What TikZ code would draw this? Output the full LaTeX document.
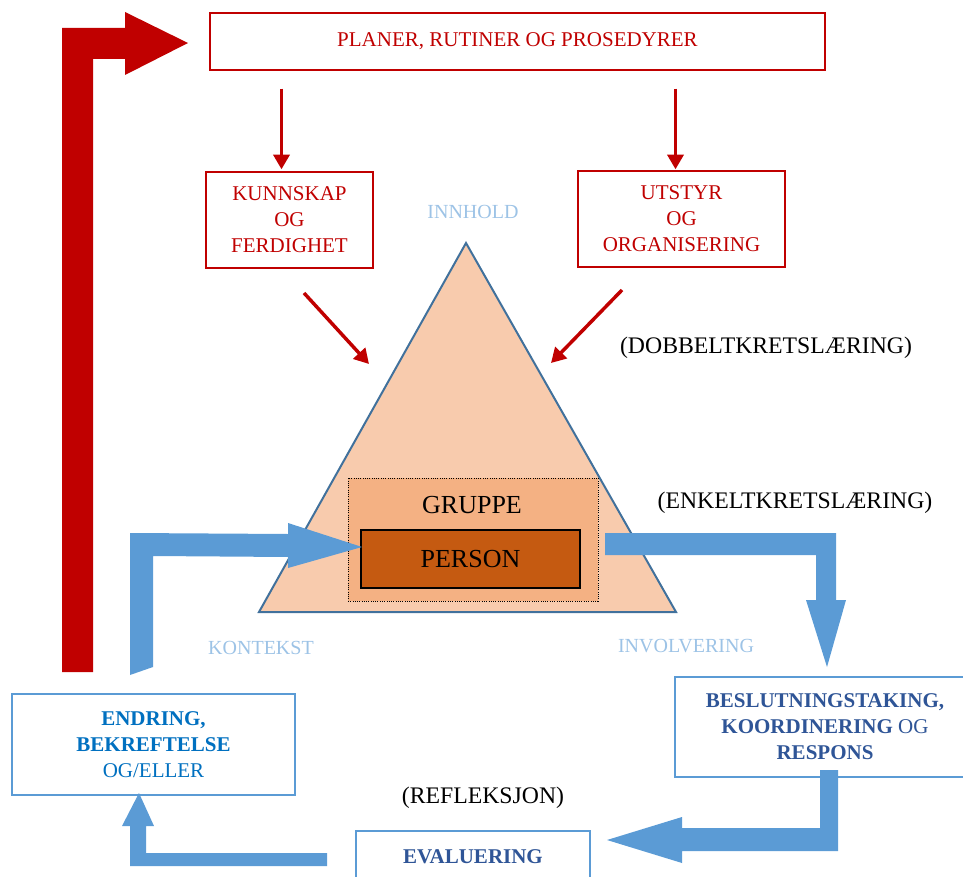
\documentclass[tikz,border=0pt]{standalone}
\usepackage{fontspec}
\setmainfont{Liberation Serif}
\usetikzlibrary{arrows.meta,calc}
\definecolor{dred}{HTML}{C00000}
\definecolor{abl}{HTML}{5B9BD5}
\definecolor{lblue}{HTML}{9DC3E6}
\definecolor{txtblue}{HTML}{0070C0}
\definecolor{dkblue}{HTML}{2F5597}
\definecolor{trifill}{HTML}{F8CBAD}
\definecolor{triline}{HTML}{41719C}
\definecolor{grfill}{HTML}{F4B183}
\definecolor{psfill}{HTML}{C55A11}
\begin{document}
\begin{tikzpicture}[x=0.75pt,y=-0.75pt,
  redbox/.style={draw=dred, line width=1pt, fill=white, text=dred, inner sep=0pt, align=center,
    font=\fontsize{15.75}{19.5}\selectfont},
  bluebox/.style={draw=abl, line width=1.6pt, fill=white, inner sep=0pt, align=center,
    font=\fontsize{15.75}{19.5}\selectfont},
  fatred/.style={fill=dred},
  fatblue/.style={fill=abl},
  redarr/.style={draw=dred, line width=2.6pt, -{Triangle[width=12pt,length=11pt]}},
  lightlab/.style={text=lblue, font=\fontsize{15}{18}\selectfont, inner sep=0pt},
  blacklab/.style={font=\fontsize{17.8}{21}\selectfont, inner sep=0pt}]
\useasboundingbox (0,0) rectangle (963,877);

% triangle and inner boxes
\coordinate (tapex) at (466,243);
\coordinate (tleft) at (259,612);
\coordinate (tright) at (676,612);
\draw[fill=trifill, draw=triline, line width=1.5pt, line join=miter] (tapex) -- (tleft) -- (tright) -- cycle;
\node[draw=black, densely dotted, line width=0.7pt, fill=grfill, minimum width=187.5pt, minimum height=92.25pt, inner sep=0pt] (grp) at (473,539.5) {};
\node[font=\fontsize{19.5}{22}\selectfont, inner sep=0pt] (grplab) at (472,505) {GRUPPE};
\node[draw=black, line width=1.1pt, fill=psfill, minimum width=164.25pt, minimum height=43.5pt, inner sep=0pt, font=\fontsize{19.5}{22}\selectfont] (pers) at (470.5,559) {PERSON};

% red boxes
\node[redbox, minimum width=461.25pt, minimum height=42.75pt] (top) at (517.5,41.5) {PLANER, RUTINER OG PROSEDYRER};
\node[redbox, minimum width=125.25pt, minimum height=72pt] (kunn) at (289.5,220) {KUNNSKAP\\OG\\FERDIGHET};
\node[redbox, minimum width=155.25pt, minimum height=72pt] (utst) at (681.5,219) {UTSTYR\\OG\\ORGANISERING};

% thin red arrows
\draw[redarr] ($(top.south -| kunn.north)+(-8,18)$) -- ($(kunn.north)+(-8,-2)$);
\draw[redarr] ($(top.south -| utst.north)+(-6,18)$) -- ($(utst.north)+(-6,-1)$);
\coordinate (k1) at (304,293);
\coordinate (k2) at (369,364);
\coordinate (u1) at (622,290);
\coordinate (u2) at (551,363);
\draw[redarr] (k1) -- (k2);
\draw[redarr] (u1) -- (u2);

% big red arrow
\fill[fatred] (62,672) -- (62,28) -- (125,28) -- (125,12) -- (188,43) -- (125,75) -- (125,59) -- (93,59) -- (93,672) -- cycle;

% labels
\node[lightlab] (innhold) at (473,212) {INNHOLD};
\node[lightlab] (kontekst) at (261,648) {KONTEKST};
\node[lightlab] (involv) at (686,646) {INVOLVERING};
\node[blacklab] (dobbel) at (766,348) {(DOBBELTKRETSLÆRING)};
\node[blacklab] (enkel) at (795,503) {(ENKELTKRETSLÆRING)};
\node[blacklab] (refl) at (483,798) {(REFLEKSJON)};

% blue boxes
\node[bluebox, text=txtblue, minimum width=212.25pt, minimum height=75.75pt] (endr) at (153.5,744.5)
  {\textbf{ENDRING,}\\\textbf{BEKREFTELSE}\\OG/ELLER};
\node[bluebox, text=dkblue, minimum width=225pt, minimum height=75pt] (besl) at (825,727)
  {\textbf{BESLUTNINGSTAKING,}\\\textbf{KOORDINERING} OG\\\textbf{RESPONS}};
\node[bluebox, draw=none, text=dkblue, minimum width=174pt, minimum height=37.5pt] (eval) at (473,857) {\textbf{EVALUERING}};
\draw[abl, line width=1.6pt] (eval.south west) -- (eval.north west) -- (eval.north east) -- (eval.south east);

% big blue arrows
\fill[fatblue] (130,675) -- (130,533) -- (288,534) -- (288,523) -- (362,547) -- (288,568) -- (288,557) -- (153,556) -- (153,667) -- cycle;
\fill[fatblue] (605,533) -- (836,533) -- (836,600) -- (846,600) -- (827,667) -- (806,600) -- (816,600) -- (816,555) -- (605,555) -- cycle;
\fill[fatblue] (820,770) -- (838,770) -- (838,851) -- (682,851) -- (682,863) -- (607,840) -- (682,817) -- (682,828) -- (820,828) -- cycle;
\fill[fatblue] (327,853) -- (327,866) -- (130,866) -- (130,826) -- (122,826) -- (139,793) -- (154,826) -- (146,826) -- (146,853) -- cycle;
\end{tikzpicture}
\end{document}
